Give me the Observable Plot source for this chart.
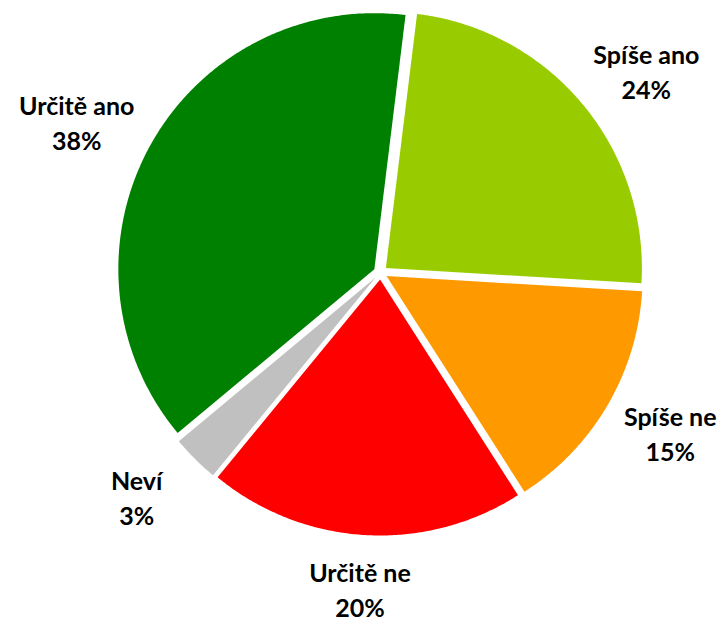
<!DOCTYPE html>
<html>
<head>
<meta charset="utf-8">
<script src="https://cdn.jsdelivr.net/npm/d3@7"></script>
<script src="https://cdn.jsdelivr.net/npm/@observablehq/plot@0.6"></script>
<style>
  html, body { margin: 0; padding: 0; background: #fff; }
  #chart svg { display: block; }
</style>
</head>
<body>
<div id="chart"></div>
<script>
// ---- data ----
const categories = ["Spíše ano", "Spíše ne", "Určitě ne", "Neví", "Určitě ano"];
const values = [24, 15, 20, 3, 38];
const colors = ["#99CC00", "#FF9900", "#FF0000", "#C0C0C0", "#008000"];

// ---- layout ----
const W = 720, H = 624;
const cx = 380, cy = 272, R = 256;      // pixel centre and radius
const startDeg = 7;                     // first slice angle
const explode = 7 / R;                  // explosion offset (units of radius)
const labelRx = (R + 90) / R, labelRy = (R + 60) / R;
const fontSize = 25;
const fontFamily = "Lato, 'Open Sans', sans-serif";

const total = d3.sum(values);
const slices = [];
let acc = startDeg;
categories.forEach((c, i) => {
  const span = values[i] / total * 360;
  slices.push({cat: c, value: values[i], a0: acc, a1: acc + span, mid: acc + span / 2});
  acc += span;
});
const rad = a => a * Math.PI / 180;

// polygon points for each slice (unit coords, y up)
const pts = [];
for (const s of slices) {
  const ox = explode * Math.sin(rad(s.mid)), oy = explode * Math.cos(rad(s.mid));
  pts.push({cat: s.cat, x: ox, y: oy});
  const n = Math.max(2, Math.ceil(s.a1 - s.a0) * 2);
  for (let k = 0; k <= n; k++) {
    const a = s.a0 + (s.a1 - s.a0) * k / n;
    pts.push({cat: s.cat, x: ox + Math.sin(rad(a)), y: oy + Math.cos(rad(a))});
  }
  pts.push({cat: s.cat, x: ox, y: oy});
}

// measure label widths to keep them inside the frame
const ctx = document.createElement("canvas").getContext("2d");
ctx.font = `bold ${fontSize}px Lato`;
const labelData = slices.map(s => {
  const w = Math.max(ctx.measureText(s.cat).width, ctx.measureText(`${s.value}%`).width);
  let px = labelRx * Math.sin(rad(s.mid)) * R;   // offset from centre, pixels
  px = Math.min(px, W - cx - 4 - w / 2);
  px = Math.max(px, -cx + 4 + w / 2);
  return {
    text: `${s.cat}\n${Math.round(s.value)}%`,
    x: px / R,
    y: labelRy * Math.cos(rad(s.mid))
  };
});

const chart = Plot.plot({
  width: W, height: H,
  margin: 0,
  x: {domain: [-cx / R, (W - cx) / R], axis: null},
  y: {domain: [-(H - cy) / R, cy / R], axis: null},
  color: {domain: categories, range: colors},
  style: {fontFamily, background: "#fff"},
  marks: [
    Plot.line(pts, {x: "x", y: "y", z: "cat", fill: "cat", stroke: "none", curve: "linear"}),
    Plot.text(labelData, {
      x: "x", y: "y", text: "text",
      fontSize, fontWeight: "bold", fill: "#000",
      lineHeight: 1.4, textAnchor: "middle"
    })
  ]
});
document.getElementById("chart").appendChild(chart);
</script>
</body>
</html>
